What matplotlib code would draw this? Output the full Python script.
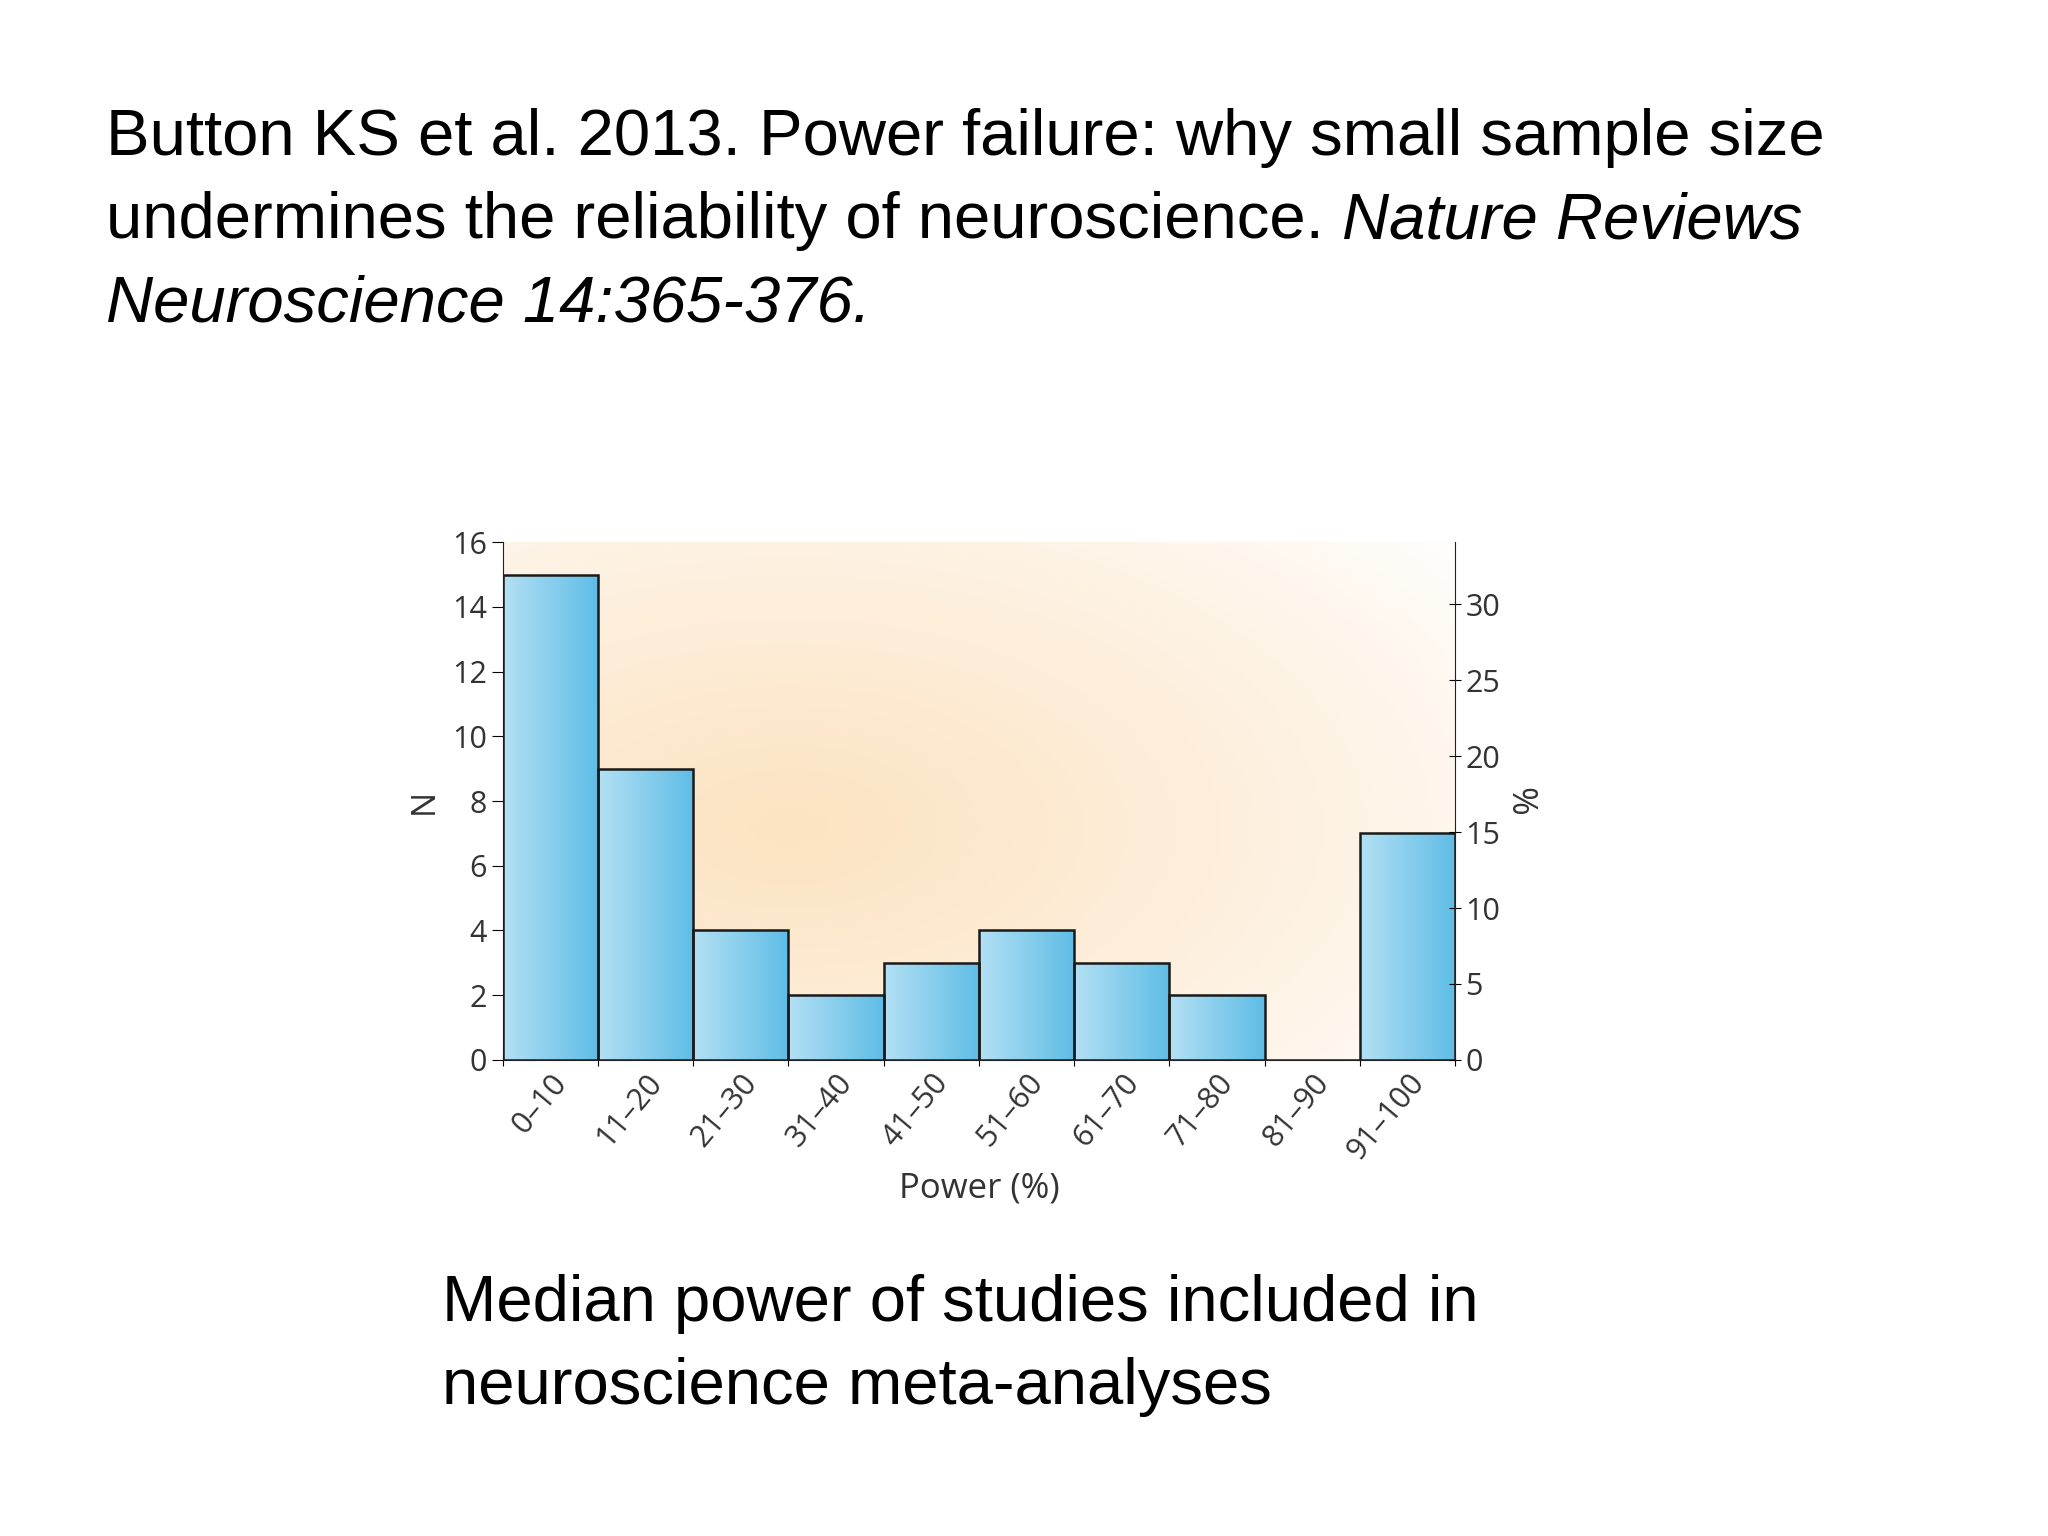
import numpy as np
import matplotlib
matplotlib.use("Agg")
import matplotlib.pyplot as plt
from matplotlib.colors import LinearSegmentedColormap

categories = ["0–10","11–20","21–30","31–40","41–50","51–60","61–70","71–80","81–90","91–100"]
counts = [15, 9, 4, 2, 3, 4, 3, 2, 0, 7]
left_ticks = [0,2,4,6,8,10,12,14,16]
right_ticks = [0,5,10,15,20,25,30]

fig = plt.figure(figsize=(20.48,15.36), dpi=100)
fig.patch.set_facecolor("white")

FS = 47
fig.text(0.052, 0.899, "Button KS et al. 2013. Power failure: why small sample size",
         fontsize=FS, family="Liberation Sans", va="baseline")
t = fig.text(0.052, 0.845, "undermines the reliability of neuroscience. ",
             fontsize=FS, family="Liberation Sans", va="baseline")
fig.canvas.draw()
bb = t.get_window_extent().transformed(fig.transFigure.inverted())
fig.text(bb.x1, 0.845, "Nature Reviews", fontsize=FS, family="Liberation Sans",
         style="italic", va="baseline")
fig.text(0.052, 0.791, "Neuroscience 14:365-376.", fontsize=FS, family="Liberation Sans",
         style="italic", va="baseline")
fig.text(0.216, 0.140, "Median power of studies included in", fontsize=FS,
         family="Liberation Sans", va="baseline")
fig.text(0.216, 0.086, "neuroscience meta-analyses", fontsize=FS,
         family="Liberation Sans", va="baseline")

ax = fig.add_axes([0.2455, 0.310, 0.465, 0.337])
x = np.arange(len(categories))

gx, gy = np.meshgrid(np.linspace(0,1,200), np.linspace(0,1,200))
d = np.clip(1 - np.sqrt(((gx-0.3)/0.9)**2 + ((gy-0.45)/0.9)**2), 0, 1)**0.8
bg = np.ones((200,200,3))
peach = np.array([0.99,0.89,0.76])
for c in range(3):
    bg[...,c] = 1 - (1-peach[c])*d
ax.imshow(bg, extent=[-0.5, len(categories)-0.5, 16, 0], aspect="auto", zorder=0)

cmap = LinearSegmentedColormap.from_list("b", ["#b3e0f4", "#5fbde6"])
grad = np.linspace(0,1,100).reshape(1,-1)
bars = ax.bar(x, counts, width=1.0, facecolor="none", edgecolor="#1a1a1a", linewidth=1.8, zorder=3)
for b in bars:
    if b.get_height() <= 0:
        continue
    im = ax.imshow(grad, cmap=cmap, extent=[b.get_x(), b.get_x()+b.get_width(), 0, b.get_height()],
                   aspect="auto", zorder=2)
    im.set_clip_path(b)
ax.set_ylim(0, 16)
ax.set_xlim(-0.5, len(categories)-0.5)

ax.spines["top"].set_visible(False)
ax.spines["right"].set_visible(False)
ax.spines["left"].set_color("#222")
ax.spines["bottom"].set_color("#222")
ax.set_yticks(left_ticks)
ax.set_yticklabels([str(v) for v in left_ticks], family="Open Sans", color="#333")
ax.tick_params(axis="y", labelsize=22, length=8, direction="out")
ax.set_xticks(np.arange(len(categories)+1)-0.5)
ax.set_xticklabels([])
ax.set_xticks(x, minor=True)
ax.set_xticklabels(categories, minor=True, rotation=50, ha="right", rotation_mode="anchor",
                   family="Open Sans", color="#333")
ax.tick_params(axis="x", which="minor", length=0, pad=6, labelsize=22)
ax.tick_params(axis="x", which="major", length=8, direction="inout")
ax.set_ylabel("N", fontsize=24, family="Open Sans", color="#333", labelpad=8)
ax.set_xlabel("Power (%)", fontsize=25, family="Open Sans", color="#333", labelpad=4)

ax2 = ax.twinx()
ax2.set_ylim(0, 34.1)
ax2.set_yticks(right_ticks)
ax2.set_yticklabels([str(v) for v in right_ticks], family="Open Sans", color="#333")
ax2.tick_params(axis="y", labelsize=22, length=8, direction="inout")
for s in ["top","left","bottom"]:
    ax2.spines[s].set_visible(False)
ax2.spines["right"].set_color("#222")
ax2.set_ylabel("%", fontsize=25, family="Open Sans", color="#333", rotation=270, labelpad=26)

fig.savefig("out.png", dpi=100)
